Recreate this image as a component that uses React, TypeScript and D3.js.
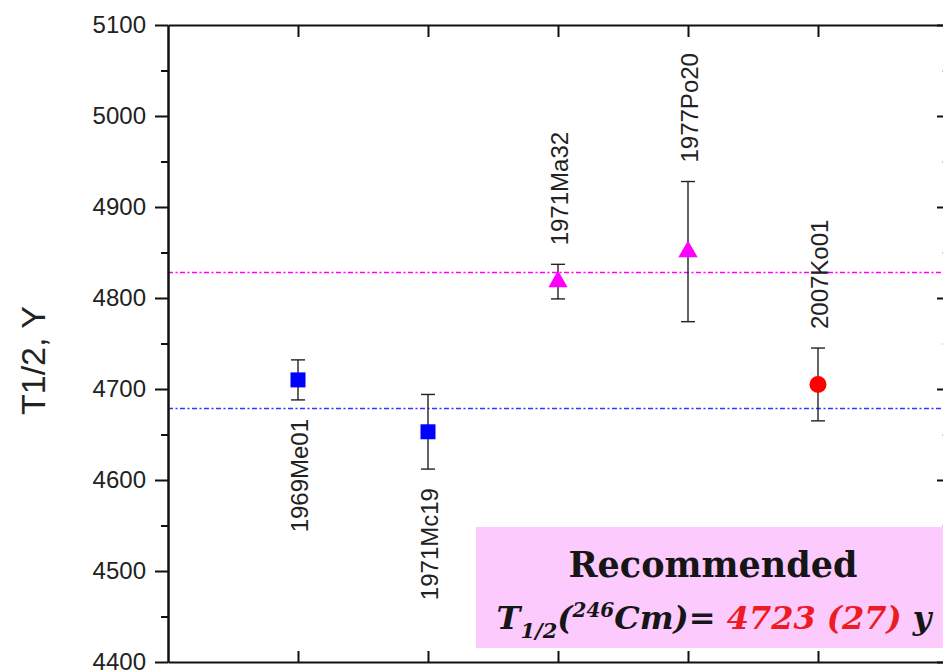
import * as d3 from "d3";
import { useEffect, useRef } from "react";

// measurements (half-life of 246Cm, years)
const labels = ["1969Me01", "1971Mc19", "1971Ma32", "1977Po20", "2007Ko01"];
const values = [4710, 4653, 4818, 4851, 4705];
const errors = [22, 41, 19, 77, 40];
const markers = ["square", "square", "triangle", "triangle", "circle"];
const labelSide = ["below", "below", "above", "above", "above"];

// group averages drawn as dashed lines
const refValues = [4829, 4679];
const refColors = ["#ff00ff", "#3535ff"];

const yTicks = [4400, 4500, 4600, 4700, 4800, 4900, 5000, 5100];
const yMinorTicks = [4450, 4550, 4650, 4750, 4850, 4950, 5050];

const MARKER_COLORS: Record<string, string> = {
  square: "#0000ff",
  triangle: "#ff00ff",
  circle: "#ff0000",
};

const W = 943;
const H = 670;

export default function App() {
  const ref = useRef<SVGSVGElement>(null);

  useEffect(() => {
    if (!ref.current) return;
    const svg = d3.select(ref.current);
    svg.selectAll("*").remove();

    const margin = { top: 25, left: 168, right: 948, bottom: 662 };
    const x = d3.scaleLinear().domain([0, 6]).range([margin.left, margin.right]);
    const y = d3.scaleLinear().domain([4400, 5100]).range([margin.bottom, margin.top]);
    const xs = labels.map((_, i) => i + 1);
    const sans = "'Liberation Sans', Arial, sans-serif";

    // reference lines
    svg
      .selectAll("line.ref")
      .data(refValues)
      .join("line")
      .attr("class", "ref")
      .attr("x1", x(0))
      .attr("x2", x(6))
      .attr("y1", (d) => Math.round(y(d)) + 0.5)
      .attr("y2", (d) => Math.round(y(d)) + 0.5)
      .attr("stroke", (_, i) => refColors[i])
      .attr("stroke-width", 1.5)
      .attr("stroke-dasharray", "5,2.5,2,2.5");

    // error bars
    const eb = svg
      .selectAll("g.err")
      .data(values)
      .join("g")
      .attr("class", "err")
      .attr("stroke", "#222")
      .attr("stroke-width", 1.4);
    eb.append("line")
      .attr("x1", (_, i) => x(xs[i]))
      .attr("x2", (_, i) => x(xs[i]))
      .attr("y1", (d, i) => y(d - errors[i]))
      .attr("y2", (d, i) => y(d + errors[i]));
    [-1, 1].forEach((s) => {
      eb.append("line")
        .attr("x1", (_, i) => x(xs[i]) - 7)
        .attr("x2", (_, i) => x(xs[i]) + 7)
        .attr("y1", (d, i) => y(d + s * errors[i]))
        .attr("y2", (d, i) => y(d + s * errors[i]));
    });

    // markers
    const sym = (m: string) => {
      if (m === "square") return d3.symbol(d3.symbolSquare, 225)();
      if (m === "triangle") return d3.symbol(d3.symbolTriangle, 160)();
      return d3.symbol(d3.symbolCircle, 227)();
    };
    svg
      .selectAll("path.pt")
      .data(values)
      .join("path")
      .attr("class", "pt")
      .attr("d", (_, i) => sym(markers[i]))
      .attr("transform", (d, i) => `translate(${x(xs[i])},${y(d)})`)
      .attr("fill", (_, i) => MARKER_COLORS[markers[i]]);

    // rotated reference labels
    const gap = 19;
    svg
      .selectAll("text.lbl")
      .data(labels)
      .join("text")
      .attr("class", "lbl")
      .attr("transform", (_, i) => {
        const ty =
          labelSide[i] === "below"
            ? y(values[i] - errors[i]) + gap
            : y(values[i] + errors[i]) - gap;
        return `translate(${x(xs[i]) + 10},${ty}) rotate(-90)`;
      })
      .attr("text-anchor", (_, i) => (labelSide[i] === "below" ? "end" : "start"))
      .attr("font-family", sans)
      .attr("font-size", 24)
      .attr("fill", "#222")
      .text((d) => d);

    // axes
    const left = svg
      .append("g")
      .attr("transform", `translate(${margin.left},0)`)
      .call(
        d3.axisLeft(y).tickValues(yTicks).tickSize(13).tickPadding(9).tickSizeOuter(0)
          .tickFormat((d) => String(d))
      );
    left.selectAll("text").attr("font-family", sans).attr("font-size", 24).attr("fill", "#222");
    svg
      .append("g")
      .attr("transform", `translate(${margin.left},0)`)
      .call(d3.axisLeft(y).tickValues(yMinorTicks).tickSize(7).tickSizeOuter(0).tickFormat(() => ""));

    const right = svg.append("g").attr("transform", `translate(${margin.right},0)`);
    right.call(d3.axisRight(y).tickValues(yTicks).tickSize(-11).tickSizeOuter(0).tickFormat(() => ""));
    right
      .append("g")
      .call(d3.axisRight(y).tickValues(yMinorTicks).tickSize(-6).tickSizeOuter(0).tickFormat(() => ""))
      .selectAll("line")
      .attr("stroke", "#999");

    svg
      .append("g")
      .attr("transform", `translate(0,${margin.bottom})`)
      .call(d3.axisBottom(x).tickValues(xs).tickSize(-11).tickSizeOuter(0).tickFormat(() => ""));
    svg
      .append("g")
      .attr("transform", `translate(0,${margin.top})`)
      .call(d3.axisTop(x).tickValues(xs).tickSize(-12).tickSizeOuter(0).tickFormat(() => ""));

    svg.selectAll(".domain").attr("stroke", "#111").attr("stroke-width", 2);
    svg.selectAll(".tick line").filter(function () {
      return d3.select(this).attr("stroke") !== "#999";
    }).attr("stroke", "#111").attr("stroke-width", 2);

    // y axis title
    svg
      .append("text")
      .attr("transform", `translate(45,${(margin.top + margin.bottom) / 2 + 17}) rotate(-90)`)
      .attr("text-anchor", "middle")
      .attr("font-family", sans)
      .attr("font-size", 34)
      .attr("fill", "#222")
      .text("T1/2, Y");

    // recommended value box
    svg
      .append("rect")
      .attr("x", 476)
      .attr("y", 527)
      .attr("width", W - 476)
      .attr("height", 121)
      .attr("fill", "#fccafc");

    const serif = "'DejaVu Serif', 'Liberation Serif', serif";
    svg
      .append("text")
      .attr("x", 713)
      .attr("y", 577)
      .attr("text-anchor", "middle")
      .attr("font-family", serif)
      .attr("font-weight", "bold")
      .attr("font-size", 35)
      .attr("fill", "#161616")
      .text("Recommended");

    const line2 = svg
      .append("text")
      .attr("x", 714)
      .attr("y", 629)
      .attr("text-anchor", "middle")
      .attr("font-family", serif)
      .attr("font-weight", "bold")
      .attr("font-style", "italic")
      .attr("font-size", 32)
      .attr("fill", "#161616");
    line2.append("tspan").text("T");
    line2.append("tspan").attr("font-size", 21).attr("dy", 9).text("1/2");
    line2.append("tspan").attr("dy", -9).text("(");
    line2.append("tspan").attr("font-size", 20).attr("dy", -12).text("246");
    line2.append("tspan").attr("dy", 12).text("Cm)= ");
    line2.append("tspan").attr("fill", "#ed1c24").text("4723 (27)");
    line2.append("tspan").text(" y");
  }, []);

  return (
    <svg
      ref={ref}
      width={W}
      height={H}
      style={{ position: "absolute", left: 0, top: 0, background: "#fff" }}
    />
  );
}
